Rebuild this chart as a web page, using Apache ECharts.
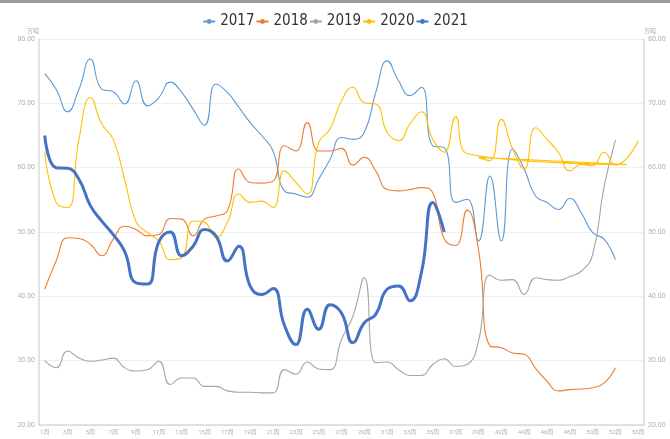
<!DOCTYPE html>
<html>
<head>
<meta charset="utf-8">
<title>周度对比</title>
<script src="https://cdn.jsdelivr.net/npm/echarts@6/dist/echarts.min.js"></script>
<style>
  html, body { margin: 0; padding: 0; background: #fff; }
  #main { width: 670px; height: 436px; border-top: 3px solid #9b9b9b; }
</style>
</head>
<body>
<div id="main"></div>
<script>
// x轴周次
var weeks = ['1周','2周','3周','4周','5周','6周','7周','8周','9周','10周',
  '11周','12周','13周','14周','15周','16周','17周','18周','19周','20周',
  '21周','22周','23周','24周','25周','26周','27周','28周','29周','30周',
  '31周','32周','33周','34周','35周','36周','37周','38周','39周','41周',
  '42周','43周','44周','45周','46周','47周','48周','49周','50周','51周',
  '52周','53周','53周'];

var years = ['2017', '2018', '2019', '2020', '2021'];

var data2017 = [74.6, 72.2, 68.7, 72.2, 76.9, 72.2, 71.8, 69.9, 73.5, 69.6,
  70.9, 73.3, 71.7, 69.1, 66.6, 73.0, 71.7, 69.4, 67.0, 65.0,
  62.6, 56.4, 55.9, 55.4, 58.2, 61.3, 64.7, 64.4, 65.5, 71.7,
  76.6, 73.5, 71.2, 72.5, 63.4, 63.1, 54.6, 55.1, 48.6, 58.7,
  48.6, 62.9, 59.8, 55.6, 54.6, 53.5, 55.2, 53.0, 49.9, 48.9, 45.7];

var data2018 = [41.1, 45.5, 49.1, 49.0, 48.1, 46.3, 48.9, 50.9, 50.4, 49.4,
  49.6, 52.1, 52.0, 49.4, 52.0, 52.5, 53.3, 59.8, 57.7, 57.6,
  57.9, 63.4, 62.6, 67.0, 62.6, 62.6, 63.0, 60.4, 61.6, 59.5,
  56.6, 56.4, 56.6, 56.9, 56.1, 48.9, 47.9, 53.4, 47.3, 32.3,
  32.0, 31.2, 31.0, 28.8, 26.8, 25.3, 25.5, 25.6, 25.8, 26.5, 28.9];

var data2019 = [30.0, 28.9, 31.5, 30.4, 29.9, 30.1, 30.4, 28.9, 28.4, 28.6,
  29.9, 26.3, 27.3, 27.3, 26.0, 26.0, 25.3, 25.1, 25.1, 25.0,
  25.0, 28.6, 27.9, 29.8, 28.7, 28.6, 33.3, 36.9, 42.9, 29.7,
  29.8, 28.6, 27.7, 27.7, 29.4, 30.3, 29.1, 29.4, 33.0, 43.3,
  42.5, 42.6, 40.3, 42.9, 42.6, 42.5, 43.1, 43.9, 46.5, 57.0, 64.3];

// 2020年数据按原始顺序 [周次序号, 数值]，第52周的点排在第38周之后
var data2020 = [[0, 62.5], [1, 54.6], [2, 53.8], [3, 64.4], [4, 70.9], [5, 66.8],
  [6, 64.4], [7, 58.2], [8, 51.6], [9, 49.9], [10, 48.6], [11, 45.7],
  [12, 46.0], [13, 51.7], [14, 51.5], [15, 49.1], [16, 51.5], [17, 55.9],
  [18, 54.6], [19, 54.8], [20, 53.8], [21, 59.5], [22, 57.7], [23, 55.9],
  [24, 63.9], [25, 66.0], [26, 70.4], [27, 72.5], [28, 70.1], [29, 69.9],
  [30, 65.5], [31, 64.2], [32, 66.8], [33, 68.7], [34, 64.4], [35, 62.4],
  [36, 67.9], [37, 62.2], [51, 60.5], [38, 61.6], [39, 61.1], [40, 67.5],
  [41, 62.9], [42, 59.8], [43, 66.2], [44, 64.4], [45, 62.4], [46, 59.5],
  [47, 60.5], [48, 60.3], [49, 62.4], [50, 60.4], [52, 64.2]];

var data2021 = [65.0, 60.0, 59.9, 58.2, 54.1, 51.7, 49.6, 47.0, 42.1, 41.9,
  48.5, 50.0, 46.3, 47.8, 50.4, 49.4, 45.5, 47.8, 41.6, 40.3,
  41.2, 35.5, 32.5, 38.0, 34.9, 38.7, 37.4, 32.8, 35.9, 37.2,
  41.1, 41.6, 39.3, 43.7, 54.6, 50.0];

var colors = ['#5b9bd5', '#ed7d31', '#a5a5a5', '#ffc000', '#4472c4'];
var seriesData = [data2017, data2018, data2019, data2020, data2021];
var lineWidths = [1.1, 1.1, 1.1, 1.1, 3];

var chart = echarts.init(document.getElementById('main'));

var labelFont = 'Roboto, "Noto Sans CJK SC", sans-serif';

function yAxis(pos) {
  return {
    type: 'value',
    position: pos,
    name: '万吨',
    nameGap: 4,
    nameTextStyle: { color: '#aaa', fontSize: 6, fontFamily: labelFont, align: pos === 'left' ? 'right' : 'left' },
    min: 20,
    max: 80,
    interval: 10,
    axisLine: { show: true, lineStyle: { color: '#d9d9d9', width: 1.5 } },
    axisTick: { show: false },
    axisLabel: {
      color: '#b0b0b0', fontSize: 7, fontFamily: labelFont, margin: 4,
      formatter: function (v) { return v.toFixed(2); }
    },
    splitLine: { show: pos === 'left', lineStyle: { color: '#efefef' } }
  };
}

var option = {
  backgroundColor: '#fff',
  color: colors,
  animation: false,
  legend: {
    top: 6,
    left: 'center',
    itemWidth: 12,
    itemHeight: 6,
    itemGap: 1,
    textStyle: { fontSize: 15, color: '#333', fontFamily: '"DejaVu Sans Condensed", sans-serif' },
    data: years
  },
  grid: { left: 39, right: 26, top: 36, bottom: 14 },
  xAxis: {
    type: 'category',
    data: weeks,
    boundaryGap: true,
    axisLine: { lineStyle: { color: '#d9d9d9', width: 1.5 } },
    axisTick: { show: false },
    axisLabel: { color: '#b0b0b0', fontSize: 6, fontFamily: labelFont, margin: 4, interval: 1 }
  },
  yAxis: [yAxis('left'), yAxis('right')],
  series: years.map(function (y, i) {
    return {
      name: y,
      type: 'line',
      smooth: true,
      symbol: 'circle',
      symbolSize: 6,
      showSymbol: false,
      data: seriesData[i],
      lineStyle: { width: lineWidths[i], color: colors[i] },
      itemStyle: { color: colors[i] },
      z: i === 4 ? 5 : 2
    };
  })
};

chart.setOption(option);
</script>
</body>
</html>
